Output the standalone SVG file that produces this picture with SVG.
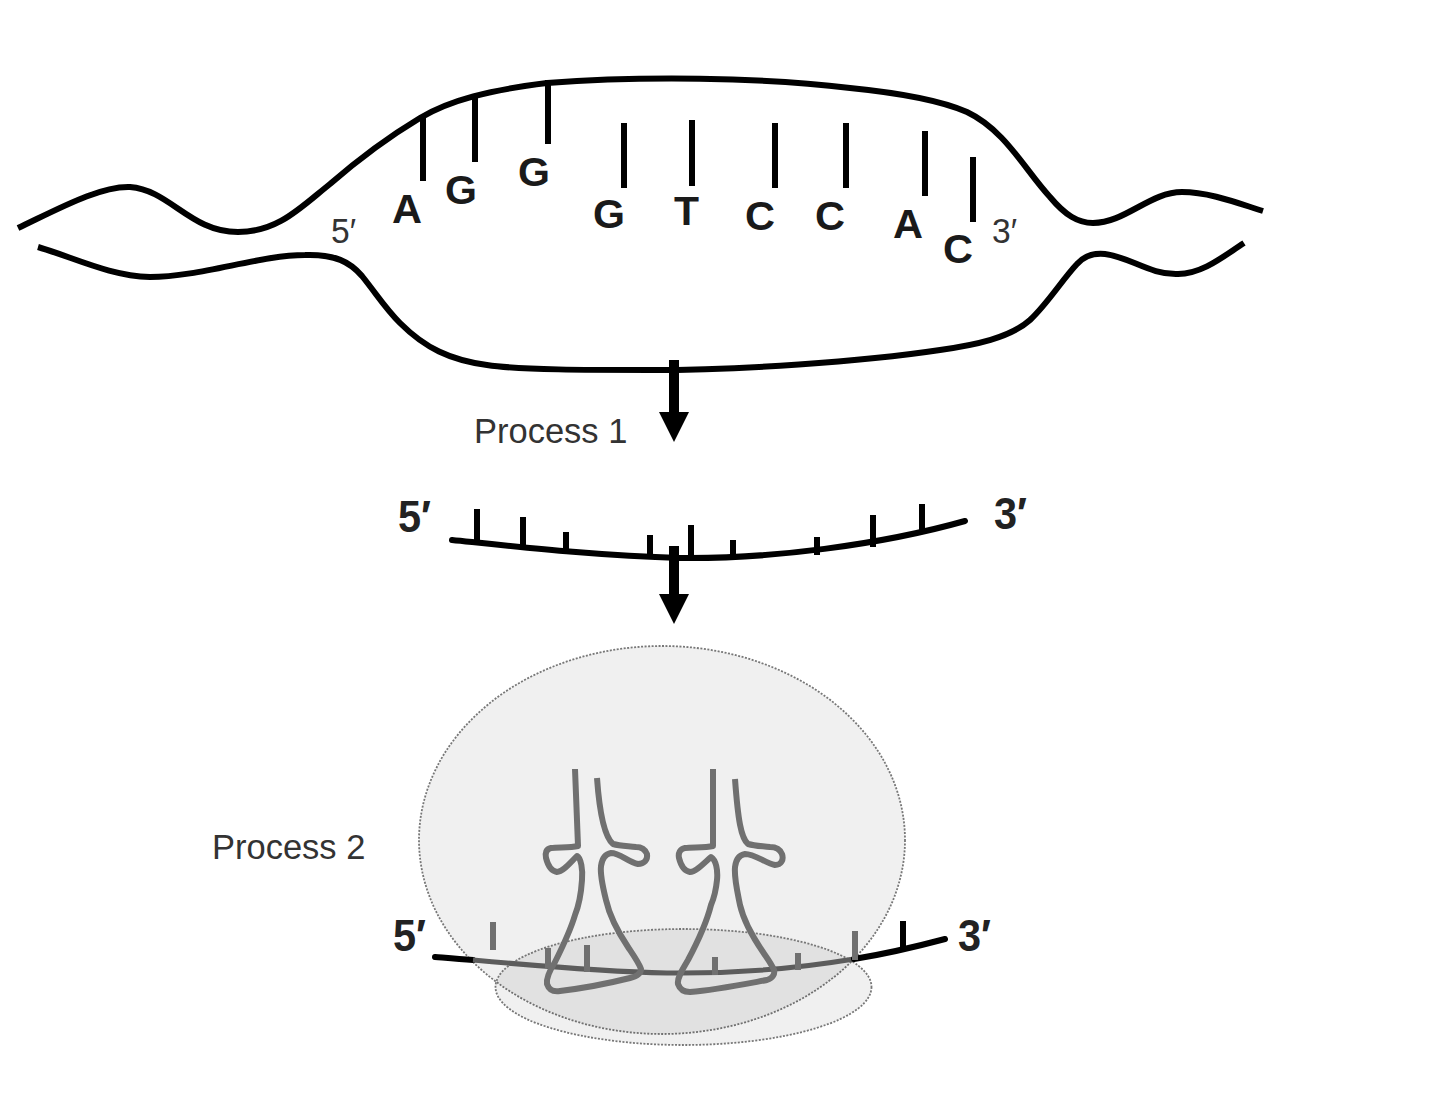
<svg xmlns="http://www.w3.org/2000/svg" width="1440" height="1100" viewBox="0 0 1440 1100">
<defs><style>
.s{fill:none;stroke:#000;stroke-width:6;stroke-linecap:butt;stroke-linejoin:round}
.t{fill:none;stroke:#000;stroke-width:6}
.m{fill:none;stroke:#000;stroke-width:6;stroke-linecap:round}
.g{fill:none;stroke:#707070;stroke-width:6}
.gl{fill:none;stroke:#707070;stroke-width:6;stroke-linejoin:round;stroke-linecap:butt}
.b{font-family:"Liberation Sans",Arial,sans-serif;font-weight:700;font-size:41px;fill:#1a1a1a}
.p{font-family:"Liberation Sans",Arial,sans-serif;font-size:34.5px;fill:#333}
.e{font-family:"Liberation Sans",Arial,sans-serif;font-size:35px;fill:#333}
.q{font-family:"Liberation Sans",Arial,sans-serif;font-weight:700;font-size:45px;fill:#222}
.ell{fill:#000;fill-opacity:.06;stroke:#777;stroke-width:1.8;stroke-dasharray:2 1.5}
</style></defs>
<g id="dna">
<path class="s" d="M18 228C60 208 100 186 130 187C170 190 190 232 238 232C278 232 300 208 330 184C360 158 390 136 420 118C450 100 490 90 547 83C640 76 760 77 850 88C890 92 935 98 967 112C1005 130 1025 170 1050 197C1065 215 1078 223 1093 223C1125 223 1150 192 1182 192C1210 192 1240 204 1263 211"/>
<path class="s" d="M38 247C75 258 110 276 150 277C200 277 260 255 305 255C335 254 350 262 362 276C378 296 385 308 400 323C425 348 450 360 487 365C520 370 590 370 650 370C740 370 860 362 940 350C975 345 1010 338 1030 320C1048 303 1062 280 1077 264C1085 255 1095 253 1105 254C1130 257 1150 275 1178 274C1203 274 1225 255 1244 243"/>
</g>
<g id="bases">
<path class="t" d="M423 117V181M475 96V162M548 80V144M624 123V188M692 120V186M775 123V188M846 123V188M925 131V196M973 157V222"/>
</g>
<g id="base-labels">
<text class="b" x="392" y="223" textLength="30" lengthAdjust="spacingAndGlyphs">A</text>
<text class="b" x="445" y="204" textLength="32" lengthAdjust="spacingAndGlyphs">G</text>
<text class="b" x="518" y="186" textLength="32" lengthAdjust="spacingAndGlyphs">G</text>
<text class="b" x="593" y="228" textLength="32" lengthAdjust="spacingAndGlyphs">G</text>
<text class="b" x="674" y="225" textLength="25" lengthAdjust="spacingAndGlyphs">T</text>
<text class="b" x="745" y="230" textLength="30" lengthAdjust="spacingAndGlyphs">C</text>
<text class="b" x="815" y="230" textLength="30" lengthAdjust="spacingAndGlyphs">C</text>
<text class="b" x="893" y="238" textLength="30" lengthAdjust="spacingAndGlyphs">A</text>
<text class="b" x="943" y="263" textLength="30" lengthAdjust="spacingAndGlyphs">C</text>
<text class="e" x="331" y="243" textLength="25" lengthAdjust="spacingAndGlyphs">5′</text>
<text class="e" x="992" y="243" textLength="25" lengthAdjust="spacingAndGlyphs">3′</text>
</g>
<g id="connectors">
<path d="M669 360H679V412H689L674 442L659 412H669Z" fill="#000"/>
<path d="M669 546H679V594H689L674 624L659 594H669Z" fill="#000"/>
</g>
<text id="process-1" class="p" x="474" y="443">Process 1</text>
<g id="mrna">
<path class="m" d="M452 540C520 547 600 556 680 558C770 559 880 545 965 521"/>
<path class="t" d="M477 509V542M523 517V546M566 532V550M650 535V556M691 525V558M733 540V558M817 537V555M873 515V547M922 504V534"/>
<text class="q" x="398" y="532" textLength="33" lengthAdjust="spacingAndGlyphs">5′</text>
<text class="q" x="994" y="529" textLength="33" lengthAdjust="spacingAndGlyphs">3′</text>
</g>
<g id="ribosome">
<ellipse class="ell" cx="662" cy="840" rx="243" ry="194"/>
<ellipse class="ell" cx="683.5" cy="987" rx="188" ry="58"/>
</g>
<g id="bound-mrna">
<path class="m" d="M435 957C447 958 458 959 473 960"/>
<path d="M473 960C560 968 620 972 667 973C740 974 800 968 854 959" fill="none" stroke="#5c5c5c" stroke-width="5"/>
<path class="m" d="M854 959C885 954 915 947 945 939"/>
<path class="g" d="M493 922V950M548 948V968M587 945V972M715 957V975M798 953V970M855 931V960"/>
<path class="t" d="M903 921V949"/>
<text class="q" x="393" y="951" textLength="33" lengthAdjust="spacingAndGlyphs">5′</text>
<text class="q" x="958" y="951" textLength="33" lengthAdjust="spacingAndGlyphs">3′</text>
</g>
<g id="trna-1">
<path class="gl" d="M575 769L578 846C570 848 558 847 551 848C546 849 545 853 546 858C548 866 551 871 557 872C563 872 571 862 577 856C581 858 583 870 582 880C581 895 579 905 575 915C570 932 562 948 555 962C550 970 546 978 547 984C549 990 553 992 560 991C585 988 610 983 630 978C638 976 641 973 641 969C639 963 634 956 628 947C618 932 610 918 606 900C603 888 600 875 601 866C602 859 605 854 611 853C620 853 628 862 638 864C644 864 648 860 647 854C645 849 642 847 636 847C628 846 620 846 613 844C606 838 600 820 597 778"/>
</g>
<g id="trna-2">
<path class="gl" d="M713 769V846C705 848 692 847 685 848C680 849 678 853 679 858C681 866 684 871 690 872C696 872 704 863 711 857C716 860 718 870 717 880C716 890 714 898 711 905C706 925 696 945 688 960C682 970 677 978 678 984C680 990 684 992 690 992C715 990 745 984 767 980C773 978 775 974 774 970C771 963 767 958 763 952C752 936 744 922 740 905C737 890 734 878 735 867C736 859 739 855 745 854C755 854 765 863 775 865C781 865 784 860 782 854C780 849 776 847 770 847C762 846 755 846 748 844C741 838 738 820 735 779"/>
</g>
<text id="process-2" class="p" x="212" y="859">Process 2</text>
</svg>
